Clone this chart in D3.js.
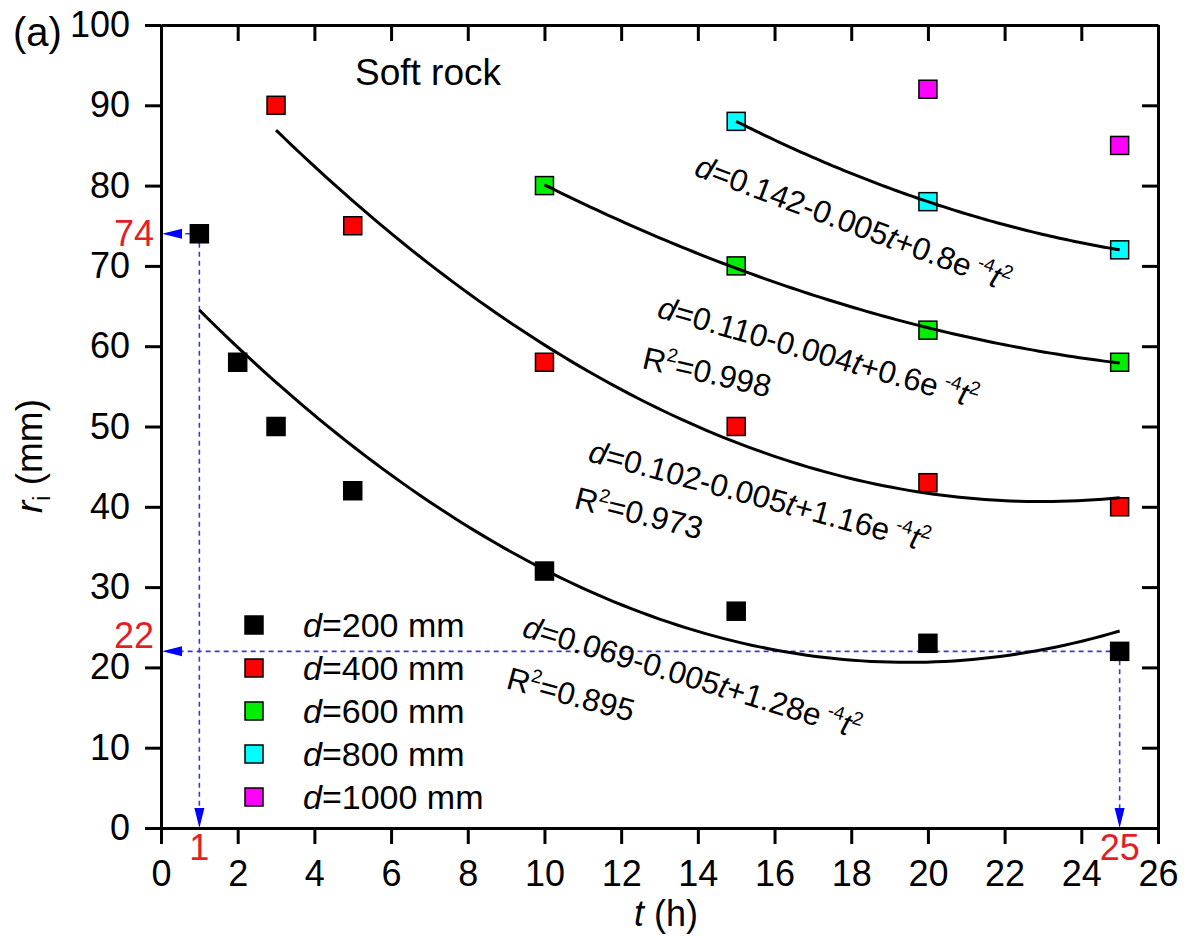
<!DOCTYPE html>
<html>
<head>
<meta charset="utf-8">
<script src="https://cdn.jsdelivr.net/npm/d3@7/dist/d3.min.js"></script>
<style>
  html, body { margin: 0; padding: 0; background: #fff; }
  svg { display: block; font-family: "Liberation Sans", Arial, Helvetica, sans-serif; }
</style>
</head>
<body>
<svg id="chart" width="1188" height="936"></svg>
<script>
// Plastic zone radius r_i versus time t for different spacings d (soft rock)
const diameters = [200, 400, 600, 800, 1000];
const t200 = [1, 2, 3, 5, 10, 15, 20, 25];
const r200 = [74, 58, 50, 42, 32, 27, 23, 22];
const t400 = [3, 5, 10, 15, 20, 25];
const r400 = [90, 75, 58, 50, 43, 40];
const t600 = [10, 15, 20, 25];
const r600 = [80, 70, 62, 58];
const t800 = [15, 20, 25];
const r800 = [88, 78, 72];
const t1000 = [20, 25];
const r1000 = [92, 85];
const seriesColors = ["#000000", "#ff0000", "#00ee00", "#00ffff", "#ff00ff"];

// Fitted quadratic labels (d in m) for the first four series
const fitConst = ["0.069", "0.102", "0.110", "0.142"];
const fitLin = ["0.005", "0.005", "0.004", "0.005"];
const fitQuad = ["1.28", "1.16", "0.6", "0.8"];
const fitR2 = ["0.895", "0.973", "0.998", null];

// Highlighted readings (first and last point of d=200 mm)
const guideT = [1, 25];
const guideR = [74, 22];

const xTicks = [0, 2, 4, 6, 8, 10, 12, 14, 16, 18, 20, 22, 24, 26];
const yTicks = [0, 10, 20, 30, 40, 50, 60, 70, 80, 90, 100];

const svg = d3.select("#chart");
const x = d3.scaleLinear().domain([0, 26]).range([161, 1158]);
const y = d3.scaleLinear().domain([0, 100]).range([828, 25]);

const series = [
  { t: t200, r: r200 }, { t: t400, r: r400 }, { t: t600, r: r600 },
  { t: t800, r: r800 }, { t: t1000, r: r1000 }
].map((s, i) => ({ ...s, d: diameters[i], color: seriesColors[i] }));

// Least-squares quadratic r = a + b t + c t^2
function quadFit(ts, rs) {
  const S = [0, 0, 0, 0, 0], T = [0, 0, 0];
  ts.forEach((t, k) => {
    for (let p = 0; p < 5; p++) S[p] += Math.pow(t, p);
    for (let p = 0; p < 3; p++) T[p] += Math.pow(t, p) * rs[k];
  });
  const M = [[S[0], S[1], S[2], T[0]], [S[1], S[2], S[3], T[1]], [S[2], S[3], S[4], T[2]]];
  for (let i = 0; i < 3; i++) {
    for (let j = i + 1; j < 3; j++) {
      const f = M[j][i] / M[i][i];
      for (let k = i; k < 4; k++) M[j][k] -= f * M[i][k];
    }
  }
  const c = [0, 0, 0];
  for (let i = 2; i >= 0; i--) {
    let s = M[i][3];
    for (let k = i + 1; k < 3; k++) s -= M[i][k] * c[k];
    c[i] = s / M[i][i];
  }
  return c;
}

// ---- axes ----
const tickFont = 36;
const axisStyle = g => {
  g.attr("font-size", tickFont).attr("font-family", null);
  g.selectAll("path.domain").attr("stroke", "#000").attr("stroke-width", 3);
  g.selectAll(".tick line").attr("stroke", "#000").attr("stroke-width", 3);
  g.selectAll(".tick text").attr("fill", "#000");
};
svg.append("g").attr("transform", "translate(0,828)")
  .call(d3.axisBottom(x).tickValues(xTicks).tickFormat(d3.format("d")).tickSize(16).tickSizeOuter(0).tickPadding(16))
  .call(axisStyle);
svg.append("g").attr("transform", "translate(0,25)")
  .call(d3.axisTop(x).tickValues(xTicks).tickFormat("").tickSize(-16).tickSizeOuter(0))
  .call(axisStyle);
svg.append("g").attr("transform", "translate(161,0)")
  .call(d3.axisLeft(y).tickValues(yTicks).tickFormat(d3.format("d")).tickSize(16).tickSizeOuter(0).tickPadding(15))
  .call(axisStyle);
svg.append("g").attr("transform", "translate(1158,0)")
  .call(d3.axisRight(y).tickValues(yTicks).tickFormat("").tickSize(-16).tickSizeOuter(0))
  .call(axisStyle);

// axis titles
svg.append("text").attr("x", 666).attr("y", 926).attr("text-anchor", "middle").attr("font-size", 36)
  .call(t => {
    t.append("tspan").attr("font-style", "italic").text("t");
    t.append("tspan").text(" (h)");
  });
svg.append("text").attr("transform", "translate(42,456) rotate(-90)").attr("text-anchor", "middle").attr("font-size", 37)
  .call(t => {
    t.append("tspan").attr("font-style", "italic").text("r");
    t.append("tspan").attr("font-size", 23).attr("dy", 8).text("i");
    t.append("tspan").attr("dy", -8).text(" (mm)");
  });
svg.append("text").attr("x", 13).attr("y", 46).attr("font-size", 40).text("(a)");
svg.append("text").attr("x", 355).attr("y", 85).attr("font-size", 37).text("Soft rock");

// ---- guide lines with arrows ----
const guideColor = "#3b3bd0", arrowColor = "#0000ff", red = "#e41e26";
const gGuide = svg.append("g");
guideT.forEach((t, i) => {
  const px = x(t), py = y(guideR[i]), x0 = x(0), y0 = y(0);
  gGuide.append("line").attr("x1", px).attr("y1", py).attr("x2", px).attr("y2", y0 - 18)
    .attr("stroke", guideColor).attr("stroke-width", 1.6).attr("stroke-dasharray", "5,4");
  gGuide.append("line").attr("x1", px).attr("y1", py).attr("x2", x0 + 18).attr("y2", py)
    .attr("stroke", guideColor).attr("stroke-width", 1.6).attr("stroke-dasharray", "5,4");
  gGuide.append("path").attr("d", `M${px},${y0} L${px - 5},${y0 - 20} L${px + 5},${y0 - 20} Z`).attr("fill", arrowColor);
  gGuide.append("path").attr("d", `M${x0 + 1},${py} L${x0 + 21},${py - 5} L${x0 + 21},${py + 5} Z`).attr("fill", arrowColor);
  svg.append("text").attr("x", px).attr("y", 860).attr("text-anchor", "middle")
    .attr("font-size", 36).attr("fill", red).text(t);
});
svg.append("text").attr("x", 154).attr("y", y(guideR[0]) + 12).attr("text-anchor", "end")
  .attr("font-size", 36).attr("fill", red).text(guideR[0]);
svg.append("text").attr("x", 154).attr("y", y(guideR[1]) - 3).attr("text-anchor", "end")
  .attr("font-size", 36).attr("fill", red).text(guideR[1]);

// ---- markers ----
const ms = 18;
series.forEach(s => {
  svg.append("g").selectAll("rect").data(s.t.map((t, k) => [t, s.r[k]])).join("rect")
    .attr("x", d => x(d[0]) - ms / 2).attr("y", d => y(d[1]) - ms / 2)
    .attr("width", ms).attr("height", ms)
    .attr("fill", s.color).attr("stroke", "#000").attr("stroke-width", 1.5);
});

// ---- fitted curves ----
const line = d3.line().x(d => x(d[0])).y(d => y(d[1]));
series.slice(0, 4).forEach(s => {
  const c = quadFit(s.t, s.r);
  const t0 = d3.min(s.t), t1 = d3.max(s.t);
  const pts = d3.range(0, 101).map(k => {
    const t = t0 + (t1 - t0) * k / 100;
    return [t, c[0] + c[1] * t + c[2] * t * t];
  });
  svg.append("path").attr("d", line(pts)).attr("fill", "none")
    .attr("stroke", "#000").attr("stroke-width", 3);
});

// ---- fit equations ----
const eqPos = [
  { x: 521, y: 636, a: 17 }, { x: 587, y: 461, a: 15 },
  { x: 656, y: 317, a: 16 }, { x: 693, y: 175, a: 20.5 }
];
const r2Pos = [
  { x: 505, y: 688, a: 15 }, { x: 573, y: 508, a: 14 }, { x: 641, y: 368, a: 13 }
];
const fs = 31.5, sup = 19;
fitConst.forEach((c0, i) => {
  const p = eqPos[i];
  const t = svg.append("text").attr("transform", `translate(${p.x},${p.y}) rotate(${p.a})`).attr("font-size", fs);
  t.append("tspan").attr("font-style", "italic").text("d");
  t.append("tspan").text(`=${c0}-${fitLin[i]}`);
  t.append("tspan").attr("font-style", "italic").text("t");
  t.append("tspan").text(`+${fitQuad[i]}e`);
  t.append("tspan").attr("font-size", sup).attr("dy", -13).text(" -4");
  t.append("tspan").attr("dy", 13).attr("font-style", "italic").text("t");
  t.append("tspan").attr("font-size", sup).attr("dy", -13).text("2");
  if (fitR2[i]) {
    const q = r2Pos[i];
    const r = svg.append("text").attr("transform", `translate(${q.x},${q.y}) rotate(${q.a})`).attr("font-size", fs);
    r.append("tspan").text("R");
    r.append("tspan").attr("font-size", sup).attr("dy", -13).text("2");
    r.append("tspan").attr("dy", 13).text(`=${fitR2[i]}`);
  }
});

// ---- legend ----
const legend = svg.append("g");
series.forEach((s, i) => {
  const cy = 625 + i * 43;
  legend.append("rect").attr("x", 245).attr("y", cy - 9).attr("width", ms).attr("height", ms)
    .attr("fill", s.color).attr("stroke", "#000").attr("stroke-width", 1.5);
  const t = legend.append("text").attr("x", 303).attr("y", cy + 12).attr("font-size", 34);
  t.append("tspan").attr("font-style", "italic").text("d");
  t.append("tspan").text(`=${s.d} mm`);
});
</script>
</body>
</html>
